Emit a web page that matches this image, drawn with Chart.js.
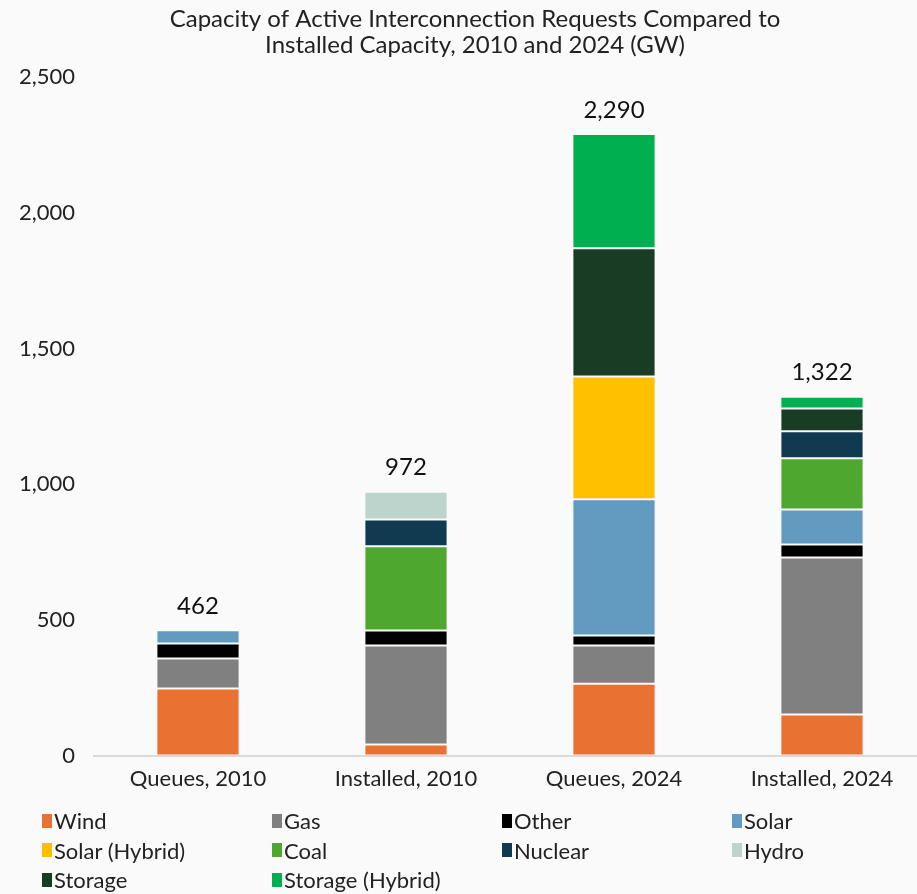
<!DOCTYPE html>
<html>
<head>
<meta charset="utf-8">
<script src="https://cdn.jsdelivr.net/npm/chart.js@4.4.1/dist/chart.umd.min.js"></script>
<style>
   html, body { margin: 0; padding: 0; background: #fafafa; overflow: hidden; }
   .wrap { position: relative; width: 917px; height: 894px; overflow: hidden; }
   #legend {
      position: absolute; left: 42px; top: 808px;
      display: grid; grid-template-columns: 230px 230px 230px 200px;
      row-gap: 4px;
      font-family: "Lato", sans-serif; font-size: 22px; color: #222;
   }
   #legend .item { display: flex; align-items: center; height: 25.5px; white-space: nowrap; }
   #legend .box { width: 10px; height: 14px; margin-right: 2px; }
</style>
</head>
<body>
<div class="wrap">
   <canvas id="myChart" width="926" height="894"></canvas>
   <div id="legend"></div>
</div>
<script>
// data (GW)
let categories = ["Queues, 2010", "Installed, 2010", "Queues, 2024", "Installed, 2024"];
let wind = [247, 41, 265, 151];
let gas = [111, 365, 141, 579];
let other = [55, 55, 36, 48];
let solar = [49, 0, 502, 129];
let solarHybrid = [0, 0, 453, 0];
let coal = [0, 310, 0, 188];
let nuclear = [0, 99, 0, 100];
let hydro = [0, 102, 0, 0];
let storage = [0, 0, 472, 84];
let storageHybrid = [0, 0, 421, 43];
let yTicks = [0, 500, 1000, 1500, 2000, 2500];
let titleLines = ["Capacity of Active Interconnection Requests Compared to", "Installed Capacity, 2010 and 2024 (GW)"];

let series = [
   { label: "Wind", data: wind, color: "#e97132" },
   { label: "Gas", data: gas, color: "#808080" },
   { label: "Other", data: other, color: "#000000" },
   { label: "Solar", data: solar, color: "#629bc0" },
   { label: "Solar (Hybrid)", data: solarHybrid, color: "#ffc000" },
   { label: "Coal", data: coal, color: "#4ea72e" },
   { label: "Nuclear", data: nuclear, color: "#0f3a50" },
   { label: "Hydro", data: hydro, color: "#bcd4cc" },
   { label: "Storage", data: storage, color: "#193d24" },
   { label: "Storage (Hybrid)", data: storageHybrid, color: "#00b050" },
];

let font = "Lato";

// title, centred a bit right of the canvas middle like the original
let titlePlugin = {
   id: "ownTitle",
   afterDraw(chart) {
      let ctx = chart.ctx;
      ctx.save();
      ctx.font = "24px " + font;
      ctx.fillStyle = "#222";
      ctx.textAlign = "center";
      ctx.textBaseline = "middle";
      titleLines.forEach((t, i) => ctx.fillText(t, 475, 19 + i * 26));
      ctx.restore();
   }
};

// totals above each bar
let totalsPlugin = {
   id: "totals",
   afterDatasetsDraw(chart) {
      let ctx = chart.ctx;
      let yScale = chart.scales.y;
      let xScale = chart.scales.x;
      ctx.save();
      ctx.font = "24px " + font;
      ctx.fillStyle = "#111";
      ctx.textAlign = "center";
      ctx.textBaseline = "middle";
      categories.forEach((c, i) => {
         let sum = 0;
         series.forEach(s => sum += s.data[i]);
         let x = xScale.getPixelForValue(i);
         let y = yScale.getPixelForValue(sum);
         ctx.fillText(sum.toLocaleString("en-US"), x, y - 24);
      });
      ctx.restore();
   }
};

new Chart("myChart", {
   type: "bar",
   data: {
      labels: categories,
      datasets: series.map(s => ({
         label: s.label,
         data: s.data,
         backgroundColor: s.color,
         borderColor: "rgba(255,255,255,0.35)",
         borderWidth: 1,
         borderSkipped: false,
      })),
   },
   options: {
      responsive: false,
      animation: false,
      categoryPercentage: 1,
      barPercentage: 0.4,
      layout: { padding: { left: 0, right: 0, bottom: 92, top: 77 } },
      plugins: {
         legend: { display: false },
         tooltip: { enabled: false },
         title: { display: false },
      },
      scales: {
         x: {
            stacked: true,
            grid: { display: false, drawTicks: false },
            border: { color: "#d9d9d9", width: 2 },
            ticks: { color: "#222", font: { family: font, size: 22 }, padding: 10 },
         },
         y: {
            stacked: true,
            min: 0,
            max: 2500,
            afterBuildTicks(axis) { axis.ticks = yTicks.map(v => ({ value: v })); },
            afterFit(axis) { axis.width = 94; },
            grid: { display: false, drawTicks: false },
            border: { display: false },
            ticks: {
               color: "#222",
               font: { family: font, size: 22 },
               padding: 19,
               callback: v => v.toLocaleString("en-US"),
            },
         },
      },
   },
   plugins: [totalsPlugin, titlePlugin],
});

// legend in 4 columns
let legendDiv = document.getElementById("legend");
series.forEach(s => {
   let item = document.createElement("div");
   item.className = "item";
   item.innerHTML = '<span class="box" style="background:' + s.color + '"></span>' + s.label;
   legendDiv.appendChild(item);
});
</script>
</body>
</html>
